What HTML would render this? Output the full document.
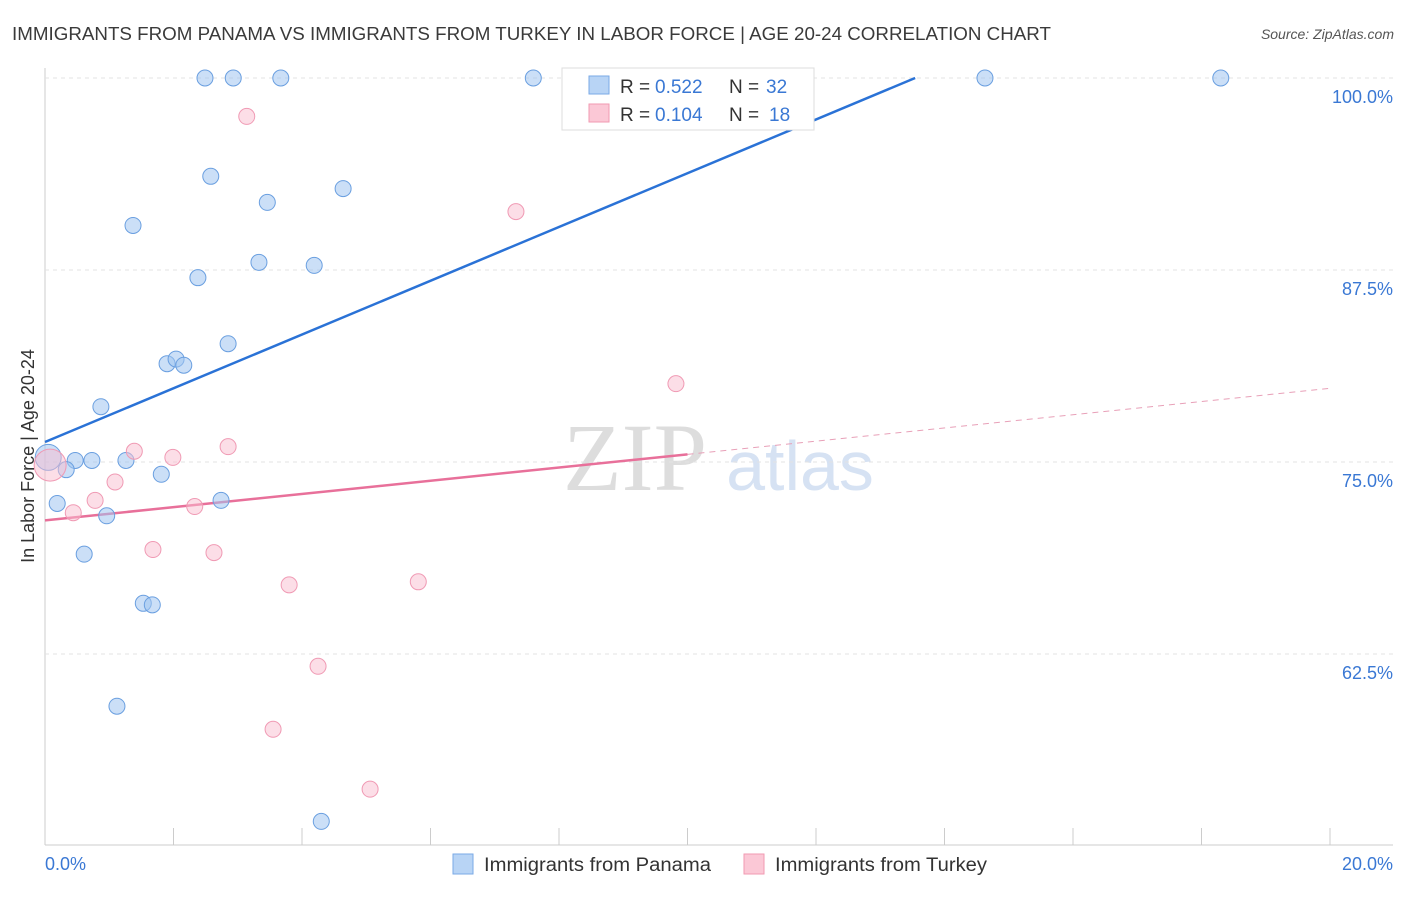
<!DOCTYPE html>
<html><head><meta charset="utf-8"><style>
body{margin:0;background:#fff;font-family:"Liberation Sans",sans-serif}
</style></head><body>
<svg id="c" width="1406" height="892" xmlns="http://www.w3.org/2000/svg">
<text x="12" y="40" font-size="18" fill="#3a3a3a" textLength="1039" lengthAdjust="spacingAndGlyphs">IMMIGRANTS FROM PANAMA VS IMMIGRANTS FROM TURKEY IN LABOR FORCE | AGE 20-24 CORRELATION CHART</text>
<text x="1394" y="39" font-size="14" fill="#555" text-anchor="end" font-style="italic">Source: ZipAtlas.com</text>
<text x="635" y="490" font-size="96" fill="#ddd" font-family="Liberation Serif" text-anchor="middle">ZIP</text>
<text x="800" y="490" font-size="70" fill="#d6e2f3" text-anchor="middle">atlas</text>
<text transform="translate(34,456) rotate(-90)" font-size="18" fill="#333" text-anchor="middle">In Labor Force | Age 20-24</text>
<g id="grid"></g><g id="lines"></g><g id="pts"></g>
<g>
<rect x="562" y="68" width="252" height="62" fill="#fff" stroke="#ddd"/>
<rect x="589" y="76" width="20" height="18" fill="#b8d4f5" stroke="#7aaae6"/>
<rect x="589" y="104" width="20" height="18" fill="#fbc8d6" stroke="#f29ab2"/>
<text x="620" y="93" font-size="19" fill="#333">R =</text>
<text x="655" y="93" font-size="19" fill="#3a78d4">0.522</text>
<text x="729" y="93" font-size="19" fill="#333">N =</text>
<text x="766" y="93" font-size="19" fill="#3a78d4">32</text>
<text x="620" y="121" font-size="19" fill="#333">R =</text>
<text x="655" y="121" font-size="19" fill="#3a78d4">0.104</text>
<text x="729" y="121" font-size="19" fill="#333">N =</text>
<text x="769" y="121" font-size="19" fill="#3a78d4">18</text>
</g>
<g>
<rect x="453" y="854" width="20" height="20" fill="#b8d4f5" stroke="#7aaae6"/>
<text x="484" y="871" font-size="19" fill="#333" textLength="227" lengthAdjust="spacingAndGlyphs">Immigrants from Panama</text>
<rect x="744" y="854" width="20" height="20" fill="#fbc8d6" stroke="#f29ab2"/>
<text x="775" y="871" font-size="19" fill="#333" textLength="212" lengthAdjust="spacingAndGlyphs">Immigrants from Turkey</text>
</g>
<text x="45" y="870" font-size="18" fill="#3a78d4">0.0%</text>
<text x="1393" y="870" font-size="18" fill="#3a78d4" text-anchor="end">20.0%</text>
</svg>
<script>
const yTicks=[100,87.5,75,62.5];
const yTickLabels=["100.0%","87.5%","75.0%","62.5%"];
const xTicks=[0,2,4,6,8,10,12,14,16,18,20];
const panamaX=[2.49,2.93,3.67,7.60,14.63,18.30,2.58,4.64,3.46,1.37,3.33,4.19,2.38,2.85,1.90,2.04,2.16,0.87,0.47,0.73,1.26,0.33,1.81,0.19,2.74,0.96,0.61,1.53,1.67,1.12,4.30,0.05];
const panamaY=[100,100,100,100,100,100,93.6,92.8,91.9,90.4,88.0,87.8,87.0,82.7,81.4,81.7,81.3,78.6,75.1,75.1,75.1,74.5,74.2,72.3,72.5,71.5,69.0,65.8,65.7,59.1,51.6,75.3];
const turkeyX=[3.14,7.33,9.82,1.39,2.85,1.99,1.09,0.78,2.33,0.44,1.68,2.63,3.80,5.81,4.25,3.55,5.06,0.08];
const turkeyY=[97.5,91.3,80.1,75.7,76.0,75.3,73.7,72.5,72.1,71.7,69.3,69.1,67.0,67.2,61.7,57.6,53.7,74.8];
const panamaTrend=[76.3,1.75];
const turkeyTrend=[71.2,0.43];
const sx=v=>45+v*64.25, sy=v=>78+(100-v)*15.36;
const NS="http://www.w3.org/2000/svg";
function mk(p,t,a){const e=document.createElementNS(NS,t);for(const k in a)e.setAttribute(k,a[k]);document.getElementById(p).appendChild(e);return e;}
let ax=mk('grid','line',{x1:45,y1:68,x2:45,y2:845,stroke:'#ccc'});


let bx=mk('grid','line',{x1:45,y1:845,x2:1393,y2:845,stroke:'#ccc'});


yTicks.forEach((v,i)=>{
 let g=mk('grid','line',{x1:45,y1:sy(v),x2:1393,y2:sy(v),stroke:'#e3e3e3','stroke-dasharray':'4,4'});
 
 
 let t=mk('grid','text',{x:1393,y:sy(v)+25,'font-size':18,fill:'#3a78d4','text-anchor':'end'});
 t.textContent=yTickLabels[i];
 
 
});
xTicks.forEach(v=>{
 let t=mk('grid','line',{x1:sx(v),y1:828,x2:sx(v),y2:845,stroke:'#ccc'});
 
 
});
const bEnd=Math.min(20,(100-panamaTrend[0])/panamaTrend[1]);
let bl=mk('lines','line',{x1:sx(0),y1:sy(panamaTrend[0]),x2:sx(bEnd),y2:sy(panamaTrend[0]+panamaTrend[1]*bEnd),stroke:'#2a72d6','stroke-width':2.5});


let pl=mk('lines','line',{x1:sx(0),y1:sy(turkeyTrend[0]),x2:sx(10),y2:sy(turkeyTrend[0]+turkeyTrend[1]*10),stroke:'#e8709a','stroke-width':2.5});


let pd=mk('lines','line',{x1:sx(10),y1:sy(turkeyTrend[0]+turkeyTrend[1]*10),x2:sx(20),y2:sy(turkeyTrend[0]+turkeyTrend[1]*20),stroke:'#e8a0b8','stroke-width':1,'stroke-dasharray':'6,5'});


panamaX.forEach((x,i)=>{
 const big=i===panamaX.length-1;
 let c=mk('pts','circle',{cx:sx(x),cy:sy(panamaY[i]),r:big?13:8,fill:'rgba(160,196,240,0.55)',stroke:'#6a9fe0','stroke-width':1});
 
 
});
turkeyX.forEach((x,i)=>{
 const big=i===turkeyX.length-1;
 let c=mk('pts','circle',{cx:sx(x),cy:sy(turkeyY[i]),r:big?16:8,fill:'rgba(250,190,208,0.5)',stroke:'#f09ab4','stroke-width':1});
 
 
});
</script>
</body></html>
